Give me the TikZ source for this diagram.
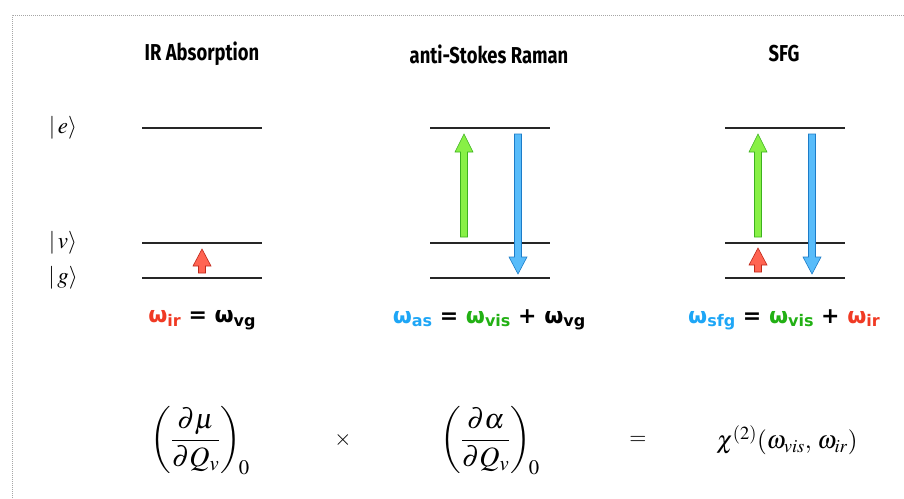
\documentclass[tikz,border=0pt]{standalone}
\usepackage{mathptmx}
\usepackage[no-math]{fontspec}
\newfontfamily\titlefont[FakeStretch=0.8]{Fira Sans}
\newfontfamily\eqfont{DejaVu Sans}
\usetikzlibrary{positioning}

\definecolor{irred}{HTML}{F03A24}
\definecolor{visgreen}{HTML}{22B014}
\definecolor{asblue}{HTML}{1EA6F6}
\definecolor{redfill}{HTML}{FF6452}
\definecolor{redline}{HTML}{C0281A}
\definecolor{greenfill}{HTML}{88F046}
\definecolor{greenline}{HTML}{3CB21E}
\definecolor{bluefill}{HTML}{58BCFA}
\definecolor{blueline}{HTML}{1C7CC8}

% omega with a subscript
\newcommand{\om}[2]{{\color{#1}ω\raisebox{-0.3ex}{\fontsize{16}{16}\selectfont #2}}}
% block arrow: x, tail y, head base y, tip y, style
\newcommand{\blockarrow}[5]{%
  \draw[#5] (#1-3.5,#2) -- (#1-3.5,#3) -- (#1-9,#3) -- (#1,#4)
    -- (#1+9,#3) -- (#1+3.5,#3) -- (#1+3.5,#2) -- cycle;}

\begin{document}
\begin{tikzpicture}[x=1pt,y=-1pt,line width=0.6pt,
  title/.style={font=\titlefont\bfseries\fontsize{23}{26}\selectfont},
  level/.style={line width=1.2pt,black!85},
  ket/.style={font=\fontsize{23}{26}\selectfont},
  eq/.style={font=\eqfont\bfseries\fontsize{22}{26}\selectfont},
  big/.style={font=\fontsize{22}{26}\selectfont},
  frac/.style={font=\fontsize{28}{32}\selectfont},
  redarr/.style={fill=redfill,draw=redline},
  greenarr/.style={fill=greenfill,draw=greenline},
  bluearr/.style={fill=bluefill,draw=blueline}]
  \useasboundingbox (0,0) rectangle (904,498);

  % dotted frame
  \draw[gray!70,dash pattern=on 1pt off 1pt] (12,498) -- (12,15) -- (904,15);

  % titles
  \node[title] (irT) at (202,54) {IR Absorption};
  \node[title] (ramanT) at (489,54) {anti-Stokes Raman};
  \node[title] (sfgT) at (784,54) {SFG};

  % state labels
  \node[ket] (e) at (63,128) {$|\,e\rangle$};
  \node[ket] (v) at (63,243) {$|\,v\rangle$};
  \node[ket] (g) at (63,278) {$|\,g\rangle$};

  % energy levels
  \foreach \x in {142,430,725} {
    \draw[level] (\x,128) -- ++(120,0);
    \draw[level] (\x,243) -- ++(120,0);
    \draw[level] (\x,278) -- ++(120,0);
  }

  % transitions
  \blockarrow{202}{273}{266}{249}{redarr}
  \blockarrow{464}{237}{152}{134}{greenarr}
  \blockarrow{518}{134}{257}{274}{bluearr}
  \blockarrow{758}{237}{152}{134}{greenarr}
  \blockarrow{812}{134}{257}{274}{bluearr}
  \blockarrow{758}{272}{265}{248}{redarr}

  % frequency relations
  \node[eq] (irEq) at (202,320) {\om{irred}{ir} = \om{black}{vg}};
  \node[eq] (ramanEq) at (489,320) {\om{asblue}{as} = \om{visgreen}{vis} + \om{black}{vg}};
  \node[eq] (sfgEq) at (784,320) {\om{asblue}{sfg} = \om{visgreen}{vis} + \om{irred}{ir}};

  % selection rules
  \node[frac] (dmu) at (200,441) {$\displaystyle\left(\frac{\partial\mu}{\partial Q_v}\right)_{\!0}$};
  \node[big] (times) at (343,440) {$\times$};
  \node[frac] (dalpha) at (490,441) {$\displaystyle\left(\frac{\partial\alpha}{\partial Q_v}\right)_{\!0}$};
  \node[big] (equals) at (638,440) {$=$};
  \node[font=\fontsize{25}{28}\selectfont] (chi) at (787,440) {$\chi^{(2)}(\omega_{vis},\,\omega_{ir})$};
\end{tikzpicture}
\end{document}
